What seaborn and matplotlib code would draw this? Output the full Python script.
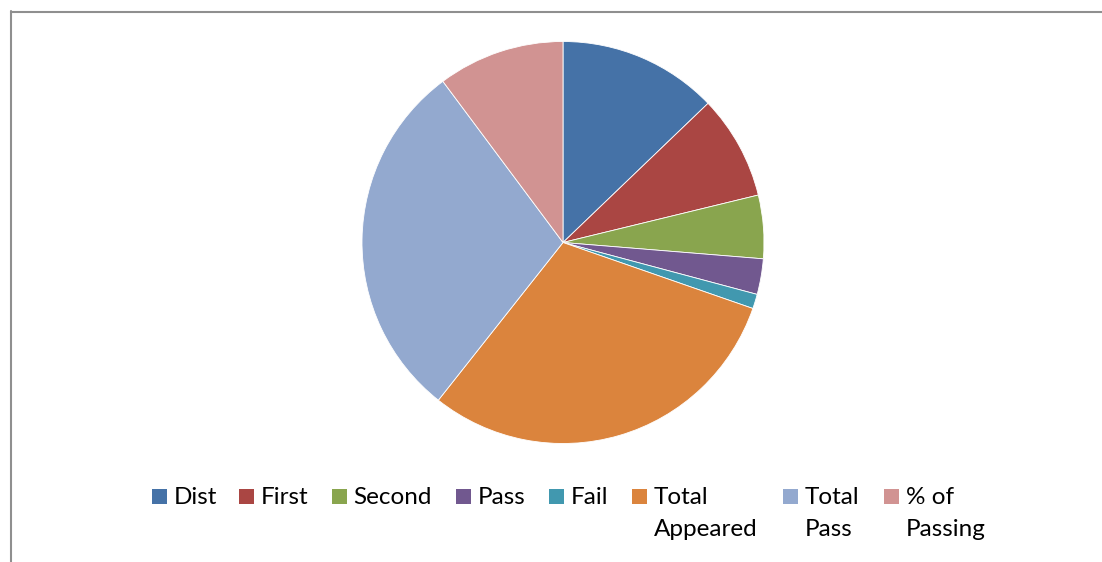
import matplotlib
matplotlib.use("Agg")
import matplotlib.pyplot as plt
from matplotlib.patches import Rectangle
from matplotlib.lines import Line2D
import seaborn as sns

categories = ["Dist", "First", "Second", "Pass", "Fail", "Total Appeared", "Total Pass", "% of Passing"]
legend_labels = ["Dist", "First", "Second", "Pass", "Fail", "Total\nAppeared", "Total\nPass", "% of\nPassing"]
values = [121, 79, 48, 27, 11, 286, 275, 96.15]
colors = ["#4572A7", "#AA4643", "#89A54E", "#71588F", "#4198AF", "#DB843D", "#93A9CF", "#D19392"]

sns.set_theme(style="white")
plt.rcParams['font.family'] = ['Lato', 'DejaVu Sans']

W, H = 1102, 562
fig = plt.figure(figsize=(W / 100, H / 100), dpi=100)
fig.patch.set_facecolor("white")

cx, cy, r = 563, 242.5, 201
ax = fig.add_axes([(cx - r) / W, (H - cy - r) / H, 2 * r / W, 2 * r / H])
palette = sns.color_palette(colors)
ax.pie(values, colors=palette, startangle=90, counterclock=False, radius=1,
       wedgeprops=dict(edgecolor="white", linewidth=0.6))
ax.set_xlim(-1, 1)
ax.set_ylim(-1, 1)
ax.set_aspect("equal")
ax.axis("off")

# frame
frame_col = "#8f8f8f"
fig.add_artist(Line2D([10.5 / W, 10.5 / W], [0, 1 - 11 / H], color=frame_col, lw=1.5, transform=fig.transFigure))
fig.add_artist(Line2D([10.5 / W, 1.0], [1 - 11.5 / H, 1 - 11.5 / H], color=frame_col, lw=1.5, transform=fig.transFigure))

# legend (manual, handles aligned with first line)
sq_x = [152, 239, 332, 456, 549, 632, 783, 884]
sq_top, sq = 489, 15
for lab, col, x in zip(legend_labels, palette, sq_x):
    fig.add_artist(Rectangle((x / W, 1 - (sq_top + sq) / H), sq / W, sq / H,
                             facecolor=col, edgecolor="none", transform=fig.transFigure))
    lines = lab.split("\n")
    fig.text((x + 21.5) / W, 1 - 504 / H, lines[0], fontsize=17.5, color="black",
             ha="left", va="baseline")
    if len(lines) > 1:
        fig.text((x + 21.5) / W, 1 - 536 / H, lines[1], fontsize=17.5, color="black",
                 ha="left", va="baseline")

fig.savefig("out.png", dpi=100, facecolor="white")
